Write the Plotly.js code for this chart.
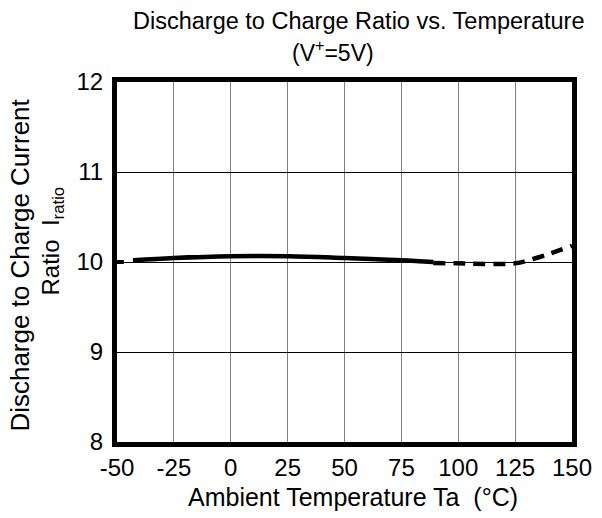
<!DOCTYPE html>
<html>
<head>
<meta charset="utf-8">
<script src="https://cdn.plot.ly/plotly-3.0.1.min.js"></script>
<style>html,body{margin:0;padding:0;background:#fff;}#chart{width:602px;height:518px;}</style>
</head>
<body>
<div id="chart"></div>
<script>
// Data
const startTemp = [-50, -47];
const startRatio = [10.0, 10.0];
const solidTemp = [-43, -25, 0, 25, 50, 75, 89];
const solidRatio = [10.02, 10.045, 10.065, 10.065, 10.045, 10.02, 10.0];
const dashTemp = [89, 100, 125, 131, 140, 150];
const dashRatio = [9.99, 9.985, 9.985, 10.02, 10.09, 10.18];
const xTicks = [-50, -25, 0, 25, 50, 75, 100, 125, 150];
const yTicks = [8, 9, 10, 11, 12];

const FONT = 'Liberation Sans, Arial, sans-serif';

const traces = [
  {x: startTemp, y: startRatio, mode: 'lines', line: {color: '#000', width: 4}, showlegend: false, hoverinfo: 'skip'},
  {x: solidTemp, y: solidRatio, mode: 'lines', line: {color: '#000', width: 4.5, shape: 'spline'}, showlegend: false},
  {x: dashTemp, y: dashRatio, mode: 'lines', line: {color: '#000', width: 4.5, dash: '12px,8px', shape: 'spline'}, showlegend: false}
];

const layout = {
  width: 602, height: 518,
  margin: {l: 117, r: 30, t: 82, b: 76},
  paper_bgcolor: '#fff', plot_bgcolor: '#fff',
  font: {family: FONT, color: '#000', size: 24},
  xaxis: {
    range: [-50, 150], tickvals: xTicks, ticktext: xTicks.map(String),
    showgrid: true, gridcolor: '#808080', gridwidth: 1,
    zeroline: false, showline: true, linecolor: '#000', linewidth: 5, mirror: true,
    ticks: '', tickfont: {size: 24, family: FONT}, ticklabelstandoff: 0
  },
  yaxis: {
    range: [8, 12], tickvals: yTicks, ticktext: yTicks.map(String),
    showgrid: true, gridcolor: '#000', gridwidth: 1,
    zeroline: false, showline: true, linecolor: '#000', linewidth: 5, mirror: true,
    ticks: '', tickfont: {size: 24, family: FONT}, ticklabelstandoff: 4
  },
  annotations: [
    {text: 'Discharge to Charge Ratio vs. Temperature', xref: 'paper', yref: 'paper', x: 0.532, y: 1, yshift: 61, xanchor: 'center', yanchor: 'middle', showarrow: false, font: {size: 23.5, family: FONT}},
    {text: '(V<sup>+</sup>=5V)', xref: 'paper', yref: 'paper', x: 0.475, y: 1, yshift: 31, xanchor: 'center', yanchor: 'middle', showarrow: false, font: {size: 23, family: FONT}},
    {text: 'Ambient Temperature Ta  (°C)', xref: 'paper', yref: 'paper', x: 0.519, y: 0, yshift: -55, xanchor: 'center', yanchor: 'middle', showarrow: false, font: {size: 25, family: FONT}},
    {text: 'Discharge to Charge Current', xref: 'paper', yref: 'paper', x: 0, xshift: -97, y: 0.49, textangle: -90, xanchor: 'center', yanchor: 'middle', showarrow: false, font: {size: 26, family: FONT}},
    {text: 'Ratio  I<sub>ratio</sub>', xref: 'paper', yref: 'paper', x: 0, xshift: -65, y: 0.557, textangle: -90, xanchor: 'center', yanchor: 'middle', showarrow: false, font: {size: 24, family: FONT}}
  ]
};

Plotly.newPlot('chart', traces, layout, {displayModeBar: false, staticPlot: true});
</script>
</body>
</html>
